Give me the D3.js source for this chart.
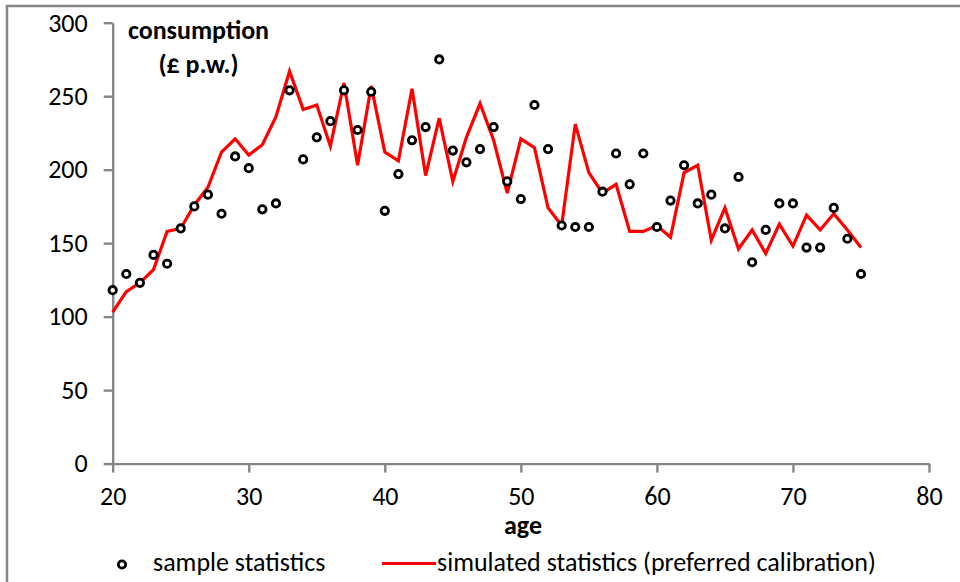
<!DOCTYPE html>
<html><head><meta charset="utf-8">
<script src="https://cdn.jsdelivr.net/npm/d3@7"></script>
<style>body{margin:0;background:#fff}svg{display:block}text{font-family:Carlito,Calibri,"Liberation Sans Narrow","Open Sans",sans-serif}</style>
</head><body><svg id="c" width="960" height="582"></svg>
<script>
const ages = d3.range(20, 76);
const sample = [118,129,123,142,136,160,175,183,170,209,201,173,177,254,207,222,233,254,227,253,
  172,197,220,229,275,213,205,214,229,192,180,244,214,162,161,161,185,211,190,211,
  161,179,203,177,183,160,195,137,159,177,177,147,147,174,153,129];
const simulated = [103,117,123,132,158,160,176,188,212,221,210,217,236,267,241,244,216,259,203,257,
  212,206,255,196,235,192,222,245,220,184,221,215,174,162,231,198,184,190,158,158,
  162,154,198,203,152,174,146,159,143,163,148,169,159,170,159,147];
const xTicks = [20,30,40,50,60,70,80];
const yTicks = [0,50,100,150,200,250,300];

const FS = 26;
const svg = d3.select('#c');
const x = d3.scaleLinear().domain([20,80]).range([112.7,929]);
const y = d3.scaleLinear().domain([0,300]).range([463.6,22.7]);
const axisColor = '#868686';

// outer frame (top and left edges visible)
svg.append('path').attr('d','M7,590 L7,6 L970,6').attr('fill','none').attr('stroke',axisColor).attr('stroke-width',2.5);

const yAx = svg.append('g').attr('transform',`translate(${x(20)},0)`)
  .call(d3.axisLeft(y).tickValues(yTicks).tickSize(9).tickPadding(16).tickSizeOuter(0));
const xAx = svg.append('g').attr('transform',`translate(0,${y(0)})`)
  .call(d3.axisBottom(x).tickValues(xTicks).tickSize(9).tickPadding(14).tickSizeOuter(0));
[yAx,xAx].forEach(g=>{
  g.selectAll('path,line').attr('stroke',axisColor).attr('stroke-width',2.4);
  g.selectAll('text').attr('font-size',FS).attr('fill','#000');
});

// simulated line
svg.append('path').datum(ages.map((a,i)=>[a,simulated[i]]))
  .attr('fill','none').attr('stroke','#ff0000').attr('stroke-width',3.2).attr('stroke-linejoin','miter')
  .attr('d', d3.line().x(d=>x(d[0])).y(d=>y(d[1])));

// sample markers
svg.append('g').selectAll('circle').data(ages.map((a,i)=>[a,sample[i]])).join('circle')
  .attr('cx',d=>x(d[0])).attr('cy',d=>y(d[1])).attr('r',3.7)
  .attr('fill','#fff').attr('stroke','#000').attr('stroke-width',2.8);

// titles
svg.append('text').attr('x',198.5).attr('y',39).attr('text-anchor','middle').attr('font-size',FS).attr('font-weight','bold').text('consumption');
svg.append('text').attr('x',198.5).attr('y',73).attr('text-anchor','middle').attr('font-size',FS).attr('font-weight','bold').text('(£ p.w.)');
svg.append('text').attr('x',523).attr('y',534).attr('text-anchor','middle').attr('font-size',FS).attr('font-weight','bold').text('age');

// legend
const lg = svg.append('g');
lg.append('circle').attr('cx',122).attr('cy',564.5).attr('r',3.7).attr('fill','#fff').attr('stroke','#000').attr('stroke-width',2.8);
lg.append('text').attr('x',153).attr('y',571).attr('font-size',FS).text('sample statistics');
lg.append('line').attr('x1',382).attr('x2',436).attr('y1',563.5).attr('y2',563.5).attr('stroke','#ff0000').attr('stroke-width',3.2);
lg.append('text').attr('x',437).attr('y',571).attr('font-size',FS).text('simulated statistics (preferred calibration)');
</script></body></html>
